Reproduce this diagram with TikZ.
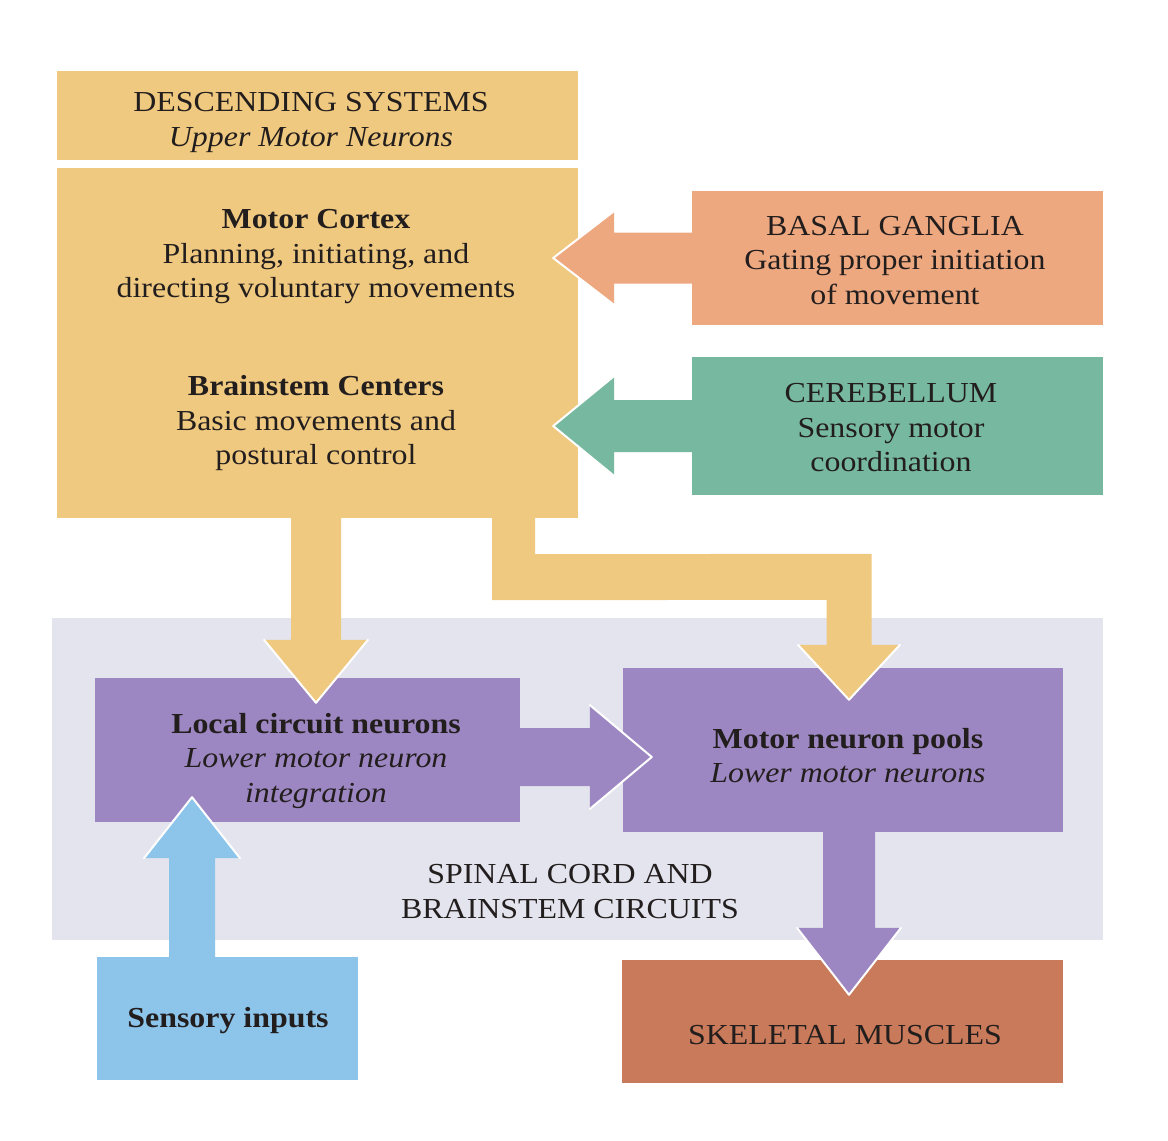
\documentclass[tikz,border=0pt]{standalone}
\usepackage{fontspec}
\setmainfont{Liberation Serif}[FakeStretch=1.1]
\usetikzlibrary{calc}
\definecolor{cTan}{HTML}{F0C980}
\definecolor{cSalmon}{HTML}{EEA880}
\definecolor{cGreen}{HTML}{77B9A0}
\definecolor{cPurple}{HTML}{9D87C2}
\definecolor{cBlue}{HTML}{8CC4EA}
\definecolor{cBrick}{HTML}{C87A5A}
\definecolor{cLav}{HTML}{E4E4EE}
\definecolor{cInk}{HTML}{231E1E}
\newcommand\harrow[6]{%
 \fill[#1] ($(#2)+(0,{-(#4)})$) -- ($(#3)+({-(#6)},{-(#4)})$) -- ($(#3)+({-(#6)},{-(#5)})$) -- (#3) -- ($(#3)+({-(#6)},#5)$) -- ($(#3)+({-(#6)},#4)$) -- ($(#2)+(0,#4)$) -- cycle;
 \draw[headedge] ($(#3)+({-(#6)},{-(#5)})$) -- (#3) -- ($(#3)+({-(#6)},#5)$);}
\newcommand\varrow[6]{%
 \fill[#1] ($(#2)+({-(#4)},0)$) -- ($(#3)+({-(#4)},{-(#6)})$) -- ($(#3)+({-(#5)},{-(#6)})$) -- (#3) -- ($(#3)+(#5,{-(#6)})$) -- ($(#3)+(#4,{-(#6)})$) -- ($(#2)+(#4,0)$) -- cycle;
 \draw[headedge] ($(#3)+({-(#5)},{-(#6)})$) -- (#3) -- ($(#3)+(#5,{-(#6)})$);}
\begin{document}
\begin{tikzpicture}[x=1pt,y=-1pt,
  box/.style={rectangle, inner sep=0pt, draw=none},
  txt/.style={align=center, inner sep=0pt, text=cInk, font=\fontsize{29}{34.5}\selectfont},
  headedge/.style={draw=white, line width=2pt, line join=round, line cap=round}]
\fill[white] (0,0) rectangle (1168,1141);
\useasboundingbox (0,0) rectangle (1168,1141);
% boxes
\node[box, fill=cLav, minimum width=1051pt, minimum height=322pt] (spinal) at (577.5,779) {};
\node[box, fill=cTan, minimum width=521pt, minimum height=89pt] (desc) at (317.5,115.5) {};
\node[box, fill=cTan, minimum width=521pt, minimum height=350pt] (main) at (317.5,343) {};
\node[box, fill=cSalmon, minimum width=411pt, minimum height=134pt] (basal) at (897.5,258) {};
\node[box, fill=cGreen, minimum width=411pt, minimum height=138pt] (cereb) at (897.5,426) {};
\node[box, fill=cPurple, minimum width=425pt, minimum height=144pt] (local) at (307.5,750) {};
\node[box, fill=cPurple, minimum width=440pt, minimum height=164pt] (motor) at (843,750) {};
\node[box, fill=cBlue, minimum width=261pt, minimum height=123pt] (sensory) at (227.5,1018.5) {};
\node[box, fill=cBrick, minimum width=441pt, minimum height=123pt] (skeletal) at (842.5,1021.5) {};
% connector end points
\coordinate (bgS) at (basal.west);
\coordinate (bgT) at ($(main.east |- basal.west)+(-25,0)$);
\coordinate (cbS) at (cereb.west);
\coordinate (cbT) at ($(main.east |- cereb.west)+(-25,0)$);
\coordinate (lmS) at ($(local.east)+(0,7)$);
\coordinate (lmT) at ($(motor.west |- local.east)+(29,7)$);
\coordinate (mlS) at ($(main.south -| local.north)+(8.5,0)$);
\coordinate (mlT) at ($(local.north)+(8.5,25)$);
\coordinate (msS) at ($(motor.south)+(6,0)$);
\coordinate (msT) at ($(skeletal.north)+(6.5,35)$);
\coordinate (slS) at ($(sensory.north)+(-35.5,0)$);
\coordinate (slT) at ($(local.south -| sensory.north)+(-35.5,-25)$);
\coordinate (LS) at ($(main.south)+(196,0)$);
\coordinate (LT) at ($(motor.north)+(6,32)$);
% connectors
\harrow{cSalmon}{bgS}{bgT}{25.5}{47}{-61}
\harrow{cGreen}{cbS}{cbT}{26}{50}{-61}
\varrow{cTan}{mlS}{mlT}{25}{52}{63}
\fill[cTan] ($(LS)+(-21.5,0)$) -- ($(LS)+(-21.5,82)$) -- ($(LT)+(-22.5,-100)$) -- ($(LT)+(-22.5,-55)$) -- ($(LT)+(-51,-55)$) -- (LT) -- ($(LT)+(51,-55)$) -- ($(LT)+(22.5,-55)$) -- ($(LT)+(22.5,-146)$) -- ($(LS)+(21.5,36)$) -- ($(LS)+(21.5,0)$) -- cycle;
\draw[headedge] ($(LT)+(-51,-55)$) -- (LT) -- ($(LT)+(51,-55)$);
\harrow{cPurple}{lmS}{lmT}{29}{52}{62}
\varrow{cPurple}{msS}{msT}{26}{52}{67}
\varrow{cBlue}{slS}{slT}{23}{48}{-61}
% texts
\node[txt] (descT) at (311,122.5) {DESCENDING SYSTEMS\\\textit{Upper Motor Neurons}};
\node[txt] (cortexT) at (316,257) {\textbf{Motor Cortex}\\Planning, initiating, and\\directing voluntary movements};
\node[txt] (brainT) at (316,423.5) {\textbf{Brainstem Centers}\\Basic movements and\\postural control};
\node[txt] (basalT) at (895,260.5) {BASAL GANGLIA\\Gating proper initiation\\of movement};
\node[txt] (cerebT) at (891,428) {CEREBELLUM\\Sensory motor\\coordination};
\node[txt] (localT) at (316,761) {\textbf{Local circuit neurons}\\\textit{Lower motor neuron}\\\textit{integration}};
\node[txt] (motorT) at (848,755.5) {\textbf{Motor neuron pools}\\\textit{Lower motor neurons}};
\node[txt] (spinalT) at (570,891.5) {SPINAL CORD AND\\BRAINSTEM CIRCUITS};
\node[txt] (sensoryT) at (228,1021) {\textbf{Sensory inputs}};
\node[txt] (skeletalT) at (845,1035) {SKELETAL MUSCLES};
\end{tikzpicture}
\end{document}
